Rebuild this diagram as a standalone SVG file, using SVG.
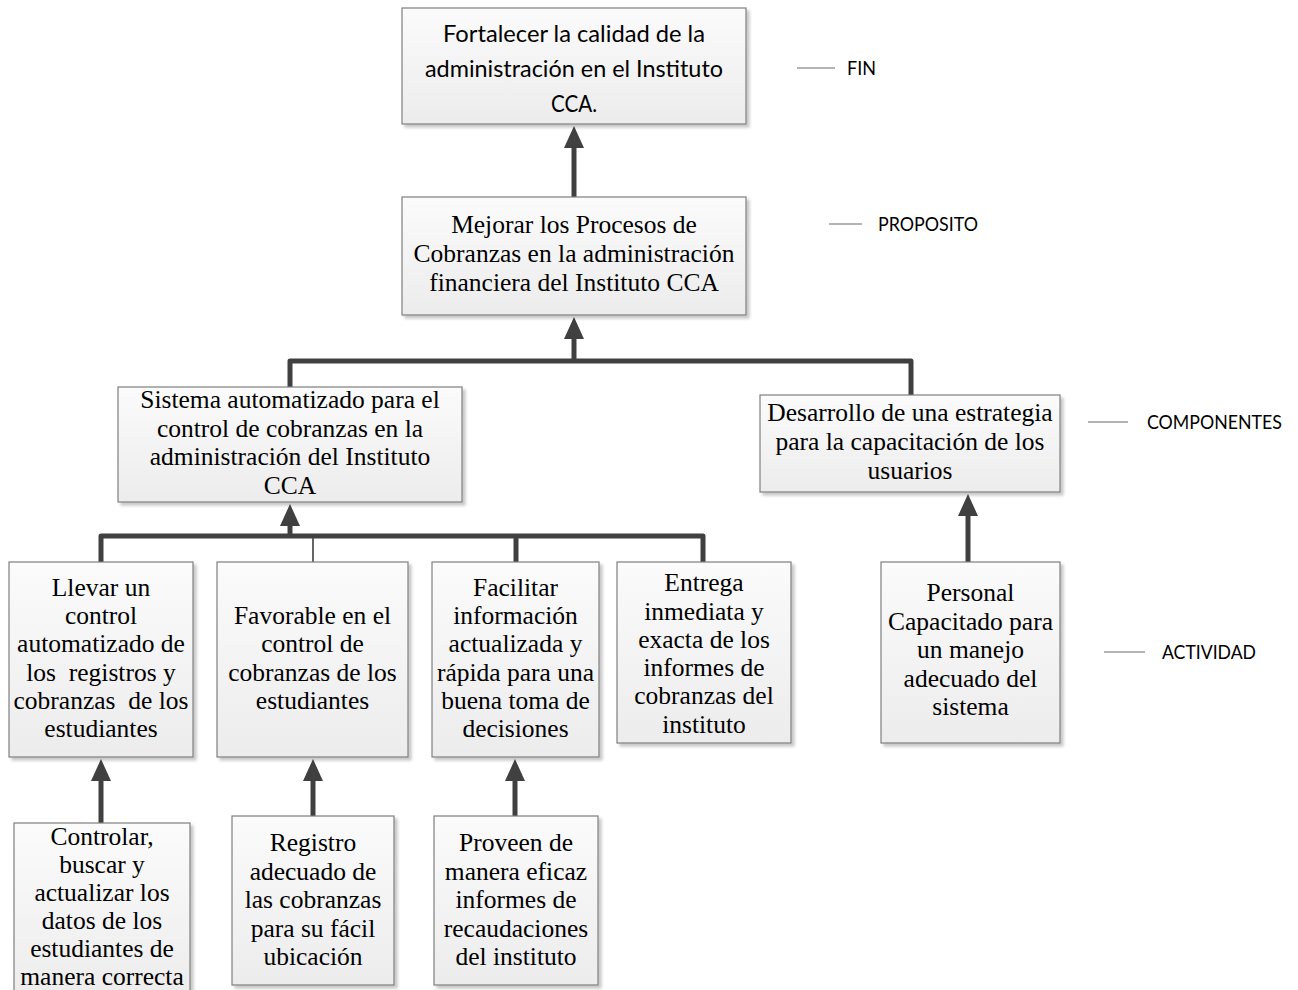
<svg xmlns="http://www.w3.org/2000/svg" width="1298" height="990" viewBox="0 0 1298 990">
  <defs>
    <linearGradient id="boxFill" x1="0" y1="0" x2="0" y2="1">
      <stop offset="0" stop-color="#fbfbfb"/>
      <stop offset="1" stop-color="#ececec"/>
    </linearGradient>
    <filter id="shadow" x="-5%" y="-5%" width="115%" height="115%">
      <feDropShadow dx="3" dy="3" stdDeviation="1.5" flood-color="#000" flood-opacity="0.22"/>
    </filter>
    <marker id="head" markerUnits="userSpaceOnUse" markerWidth="22" markerHeight="20" viewBox="0 0 22 20" refX="1" refY="10" orient="auto">
      <path d="M0,0 L22,10 L0,20 Z" fill="#404040"/>
    </marker>
    <style>
      .box { fill: url(#boxFill); stroke: #7f7f7f; stroke-width: 1.2; filter: url(#shadow); }
      .serif { font-family: "Liberation Serif", "Times New Roman", serif; font-size: 25.5px; fill: #000; text-anchor: middle; }
      .sans { font-family: Lato, "Open Sans", "Liberation Sans", sans-serif; font-size: 24px; fill: #000; text-anchor: middle; }
      .lbl { font-family: Lato, "Open Sans", "Liberation Sans", sans-serif; font-size: 19px; fill: #000; }
      .tick { stroke: #9a9a9a; stroke-width: 1.6; fill: none; }
      .conn { stroke: #404040; stroke-width: 5; fill: none; stroke-linejoin: round; }
      .thin { stroke: #404040; stroke-width: 1.6; fill: none; }
      .arrow { stroke: #404040; stroke-width: 5; fill: none; marker-end: url(#head); }
    </style>
  </defs>

  <rect width="1298" height="990" fill="#fff"/>

  <!-- connectors -->
  <g id="connectors">
    <line class="arrow" x1="574" y1="197" x2="574" y2="147"/>
    <path class="conn" d="M290,387 L290,361 L911,361 L911,395"/>
    <line class="arrow" x1="574" y1="361" x2="574" y2="338"/>
    <path class="conn" d="M101,562 L101,536 L703,536 L703,562"/>
    <line class="conn" x1="516" y1="536" x2="516" y2="562"/>
    <line class="thin" x1="313" y1="536" x2="313" y2="562"/>
    <line class="arrow" x1="290" y1="536" x2="290" y2="525"/>
    <line class="arrow" x1="968" y1="562" x2="968" y2="515"/>
    <line class="arrow" x1="101" y1="823" x2="101" y2="780"/>
    <line class="arrow" x1="313" y1="816" x2="313" y2="780"/>
    <line class="arrow" x1="515" y1="816" x2="515" y2="780"/>
  </g>

  <!-- level labels -->
  <g id="labels">
    <line class="tick" x1="797" y1="68" x2="835" y2="68"/>
    <text class="lbl" x="847" y="75" textLength="29" lengthAdjust="spacingAndGlyphs">FIN</text>
    <line class="tick" x1="829" y1="224" x2="862" y2="224"/>
    <text class="lbl" x="878" y="231" textLength="100" lengthAdjust="spacingAndGlyphs">PROPOSITO</text>
    <line class="tick" x1="1088" y1="422" x2="1128" y2="422"/>
    <text class="lbl" x="1147" y="429" textLength="135" lengthAdjust="spacingAndGlyphs">COMPONENTES</text>
    <line class="tick" x1="1104" y1="652" x2="1145" y2="652"/>
    <text class="lbl" x="1162" y="659" textLength="94" lengthAdjust="spacingAndGlyphs">ACTIVIDAD</text>
  </g>

  <!-- FIN -->
  <g id="fin">
    <rect class="box" x="402" y="8" width="344" height="116"/>
    <text class="sans" x="574" y="42" textLength="262" lengthAdjust="spacingAndGlyphs">Fortalecer la calidad de la</text>
    <text class="sans" x="574" y="77" textLength="298" lengthAdjust="spacingAndGlyphs">administración en el Instituto</text>
    <text class="sans" x="574" y="112" textLength="46" lengthAdjust="spacingAndGlyphs">CCA.</text>
  </g>

  <!-- PROPOSITO -->
  <g id="proposito">
    <rect class="box" x="402" y="197" width="344" height="118"/>
    <text class="serif" x="574" y="233">Mejorar los Procesos de</text>
    <text class="serif" x="574" y="262">Cobranzas en la administración</text>
    <text class="serif" x="574" y="291">financiera del Instituto CCA</text>
  </g>

  <!-- COMPONENTES -->
  <g id="sistema">
    <rect class="box" x="118" y="387" width="344" height="115"/>
    <text class="serif" x="290" y="408">Sistema automatizado para el</text>
    <text class="serif" x="290" y="437">control de cobranzas en la</text>
    <text class="serif" x="290" y="465">administración del Instituto</text>
    <text class="serif" x="290" y="494">CCA</text>
  </g>

  <g id="desarrollo">
    <rect class="box" x="760" y="395" width="300" height="97"/>
    <text class="serif" x="910" y="421">Desarrollo de una estrategia</text>
    <text class="serif" x="910" y="450">para la capacitación de los</text>
    <text class="serif" x="910" y="479">usuarios</text>
  </g>

  <!-- ACTIVIDAD -->
  <g id="llevar">
    <rect class="box" x="9" y="562" width="184" height="195"/>
    <text class="serif" x="101" y="596">Llevar un</text>
    <text class="serif" x="101" y="624">control</text>
    <text class="serif" x="101" y="652">automatizado de</text>
    <text class="serif" x="101" y="681" xml:space="preserve">los  registros y</text>
    <text class="serif" x="101" y="709" xml:space="preserve">cobranzas  de los</text>
    <text class="serif" x="101" y="737">estudiantes</text>
  </g>

  <g id="favorable">
    <rect class="box" x="217" y="562" width="191" height="195"/>
    <text class="serif" x="312.5" y="624">Favorable en el</text>
    <text class="serif" x="312.5" y="652">control de</text>
    <text class="serif" x="312.5" y="681">cobranzas de los</text>
    <text class="serif" x="312.5" y="709">estudiantes</text>
  </g>

  <g id="facilitar">
    <rect class="box" x="432" y="562" width="167" height="195"/>
    <text class="serif" x="515.5" y="596">Facilitar</text>
    <text class="serif" x="515.5" y="624">información</text>
    <text class="serif" x="515.5" y="652">actualizada y</text>
    <text class="serif" x="515.5" y="681">rápida para una</text>
    <text class="serif" x="515.5" y="709">buena toma de</text>
    <text class="serif" x="515.5" y="737">decisiones</text>
  </g>

  <g id="entrega">
    <rect class="box" x="617" y="562" width="174" height="181"/>
    <text class="serif" x="704" y="591">Entrega</text>
    <text class="serif" x="704" y="620">inmediata y</text>
    <text class="serif" x="704" y="648">exacta de los</text>
    <text class="serif" x="704" y="676">informes de</text>
    <text class="serif" x="704" y="704">cobranzas del</text>
    <text class="serif" x="704" y="733">instituto</text>
  </g>

  <g id="personal">
    <rect class="box" x="881" y="562" width="179" height="181"/>
    <text class="serif" x="970.5" y="601">Personal</text>
    <text class="serif" x="970.5" y="630">Capacitado para</text>
    <text class="serif" x="970.5" y="658">un manejo</text>
    <text class="serif" x="970.5" y="687">adecuado del</text>
    <text class="serif" x="970.5" y="715">sistema</text>
  </g>

  <g id="controlar">
    <rect class="box" x="14" y="823" width="176" height="180"/>
    <text class="serif" x="102" y="845">Controlar,</text>
    <text class="serif" x="102" y="873">buscar y</text>
    <text class="serif" x="102" y="901">actualizar los</text>
    <text class="serif" x="102" y="929">datos de los</text>
    <text class="serif" x="102" y="957">estudiantes de</text>
    <text class="serif" x="102" y="985">manera correcta</text>
  </g>

  <g id="registro">
    <rect class="box" x="232" y="816" width="162" height="169"/>
    <text class="serif" x="313" y="851">Registro</text>
    <text class="serif" x="313" y="880">adecuado de</text>
    <text class="serif" x="313" y="908">las cobranzas</text>
    <text class="serif" x="313" y="937">para su fácil</text>
    <text class="serif" x="313" y="965">ubicación</text>
  </g>

  <g id="proveen">
    <rect class="box" x="434" y="816" width="164" height="169"/>
    <text class="serif" x="516" y="851">Proveen de</text>
    <text class="serif" x="516" y="880">manera eficaz</text>
    <text class="serif" x="516" y="908">informes de</text>
    <text class="serif" x="516" y="937">recaudaciones</text>
    <text class="serif" x="516" y="965">del instituto</text>
  </g>
</svg>
